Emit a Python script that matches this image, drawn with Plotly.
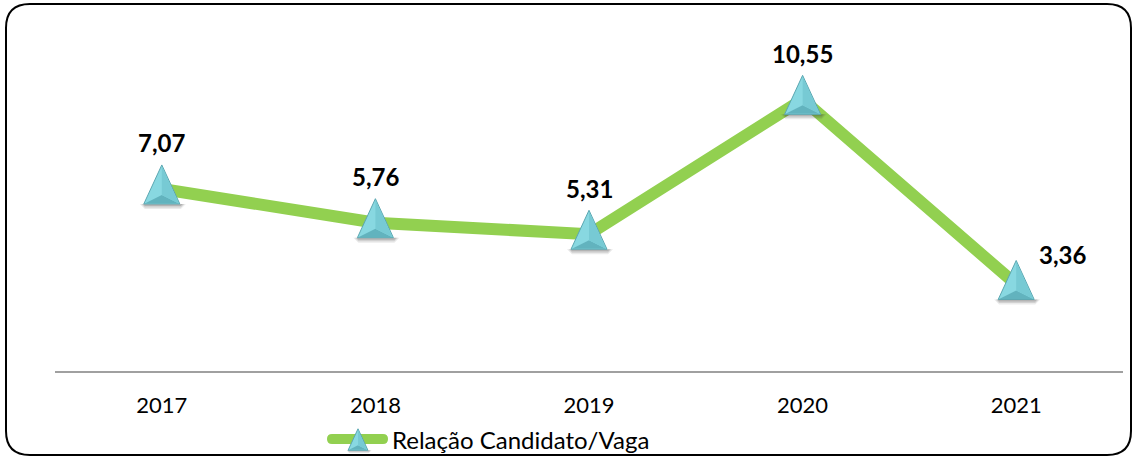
import plotly.graph_objects as go

# ---- data ----
years = ["2017", "2018", "2019", "2020", "2021"]
ratio = [7.07, 5.76, 5.31, 10.55, 3.36]
series_name = "Relação Candidato/Vaga"

# ---- style ----
W, H = 1134, 456
ML, MR, MT, MB = 55, 11, 62, 85
GREEN = "#92D050"
FONT = "Lato"
label_shift = {4: (46, 30)}          # per-point label offset overrides (px)
default_shift = (0, 46)

PW, PH = W - ML - MR, H - MT - MB


def px2x(px):
    return (px - ML) / PW


def py2y(py):
    return (H - MB - py) / PH


xs = list(range(len(years)))

fig = go.Figure()
fig.add_trace(go.Scatter(
    x=xs, y=ratio, mode="lines", name=series_name,
    line=dict(color=GREEN, width=12), showlegend=False, hoverinfo="skip"))

shapes = []


def tri_shapes(xref, yref, xa, ya, s=1.0):
    out = []
    hw, top, bot = 18 * s, 24 * s, -15 * s
    # soft shadow
    for k, a in [(5, 0.10), (3.5, 0.15), (2, 0.2)]:
        out.append(dict(type="path", xref=xref, yref=yref, xsizemode="pixel", ysizemode="pixel",
                        xanchor=xa, yanchor=ya,
                        path=f"M{-hw-k*s+1},{bot} L{hw+k*s+1},{bot} L{hw+1},{bot-k*s} L{-hw+1},{bot-k*s} Z",
                        fillcolor=f"rgba(60,60,60,{a})", line=dict(width=0), layer="above"))
    # outer triangle
    out.append(dict(type="path", xref=xref, yref=yref, xsizemode="pixel", ysizemode="pixel",
                    xanchor=xa, yanchor=ya,
                    path=f"M0,{top} L{hw},{bot} L{-hw},{bot} Z",
                    fillcolor="#88D8E1", line=dict(color="#5BA7B1", width=1), layer="above"))
    # bottom bevel
    out.append(dict(type="path", xref=xref, yref=yref, xsizemode="pixel", ysizemode="pixel",
                    xanchor=xa, yanchor=ya,
                    path=f"M{-hw+1},{bot+0.5} L{hw-1},{bot+0.5} L0,{bot+9*s} Z",
                    fillcolor="#62B3BE", line=dict(width=0), layer="above"))
    # right bevel
    out.append(dict(type="path", xref=xref, yref=yref, xsizemode="pixel", ysizemode="pixel",
                    xanchor=xa, yanchor=ya,
                    path=f"M0,{top-1} L{hw-1},{bot+0.5} L0,{bot+9*s} Z",
                    fillcolor="#77CAD4", line=dict(width=0), layer="above"))
    return out


for i, v in enumerate(ratio):
    shapes += tri_shapes("x", "y", xs[i], v)

# legend (custom)
lg_y = 439
lx0, lx1, r = 327, 388, 5
shapes.append(dict(type="path", xref="paper", yref="paper",
                   path=(f"M{px2x(lx0+r)},{py2y(lg_y-r)} L{px2x(lx1-r)},{py2y(lg_y-r)} "
                         f"Q{px2x(lx1)},{py2y(lg_y-r)} {px2x(lx1)},{py2y(lg_y)} "
                         f"Q{px2x(lx1)},{py2y(lg_y+r)} {px2x(lx1-r)},{py2y(lg_y+r)} "
                         f"L{px2x(lx0+r)},{py2y(lg_y+r)} "
                         f"Q{px2x(lx0)},{py2y(lg_y+r)} {px2x(lx0)},{py2y(lg_y)} "
                         f"Q{px2x(lx0)},{py2y(lg_y-r)} {px2x(lx0+r)},{py2y(lg_y-r)} Z"),
                   fillcolor=GREEN, line=dict(width=0), layer="above"))
shapes += tri_shapes("paper", "paper", px2x(358), py2y(442), s=0.55)

# rounded border
bx0, bx1, by0, by1, rr = 6, 1131, 4, 455, 24
shapes.append(dict(type="path", xref="paper", yref="paper",
                   path=(f"M{px2x(bx0+rr)},{py2y(by0)} L{px2x(bx1-rr)},{py2y(by0)} "
                         f"Q{px2x(bx1)},{py2y(by0)} {px2x(bx1)},{py2y(by0+rr)} "
                         f"L{px2x(bx1)},{py2y(by1-rr)} "
                         f"Q{px2x(bx1)},{py2y(by1)} {px2x(bx1-rr)},{py2y(by1)} "
                         f"L{px2x(bx0+rr)},{py2y(by1)} "
                         f"Q{px2x(bx0)},{py2y(by1)} {px2x(bx0)},{py2y(by1-rr)} "
                         f"L{px2x(bx0)},{py2y(by0+rr)} "
                         f"Q{px2x(bx0)},{py2y(by0)} {px2x(bx0+rr)},{py2y(by0)} Z"),
                   fillcolor="rgba(0,0,0,0)", line=dict(color="#000000", width=2), layer="above"))

annotations = []
for i, v in enumerate(ratio):
    dx, dy = label_shift.get(i, default_shift)
    annotations.append(dict(x=xs[i], y=v, xref="x", yref="y", text=f"{v:.2f}".replace(".", ","),
                            showarrow=False, xshift=dx, yshift=dy, yanchor="middle",
                            font=dict(family=FONT, size=24, color="#000000", weight="bold")))
annotations.append(dict(x=px2x(390), y=py2y(439), xref="paper", yref="paper", text=series_name,
                        showarrow=False, xanchor="left", yanchor="middle",
                        font=dict(family=FONT, size=24, color="#000000")))

fig.update_layout(
    width=W, height=H,
    margin=dict(l=ML, r=MR, t=MT, b=MB),
    paper_bgcolor="white", plot_bgcolor="white",
    showlegend=False,
    shapes=shapes, annotations=annotations,
    xaxis=dict(range=[-0.5, len(years) - 0.5], tickvals=xs, ticktext=years,
               showgrid=False, zeroline=False, showline=True, linecolor="#A0A0A0", linewidth=1.5,
               ticks="", ticklabelstandoff=14,
               tickfont=dict(family=FONT, size=22, color="#000000")),
    yaxis=dict(range=[0, 12], visible=False, showgrid=False, zeroline=False),
)

fig.write_html("out.html", config={"displayModeBar": False},
               post_script="document.body.style.margin='0';document.body.style.overflow='hidden';")
